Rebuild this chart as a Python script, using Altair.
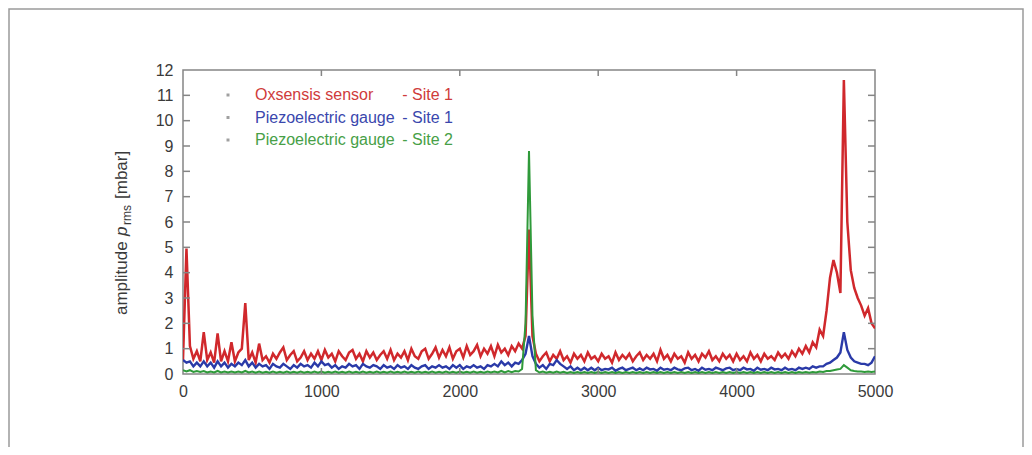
import altair as alt
import pandas as pd

# ---------------- data ----------------
FREQ_HZ = list(range(0, 5001, 25))  # frequency grid, 25 Hz spacing (201 points)

OXSENSIS_SITE1 = [
    0.55, 4.95, 1.1, 0.6, 0.9, 0.5, 1.65, 0.55, 0.85, 0.45, 1.6, 0.5, 0.9, 0.5, 1.25, 0.5, 0.85, 1.0, 2.8, 0.55,
    0.85, 0.45, 1.2, 0.55, 0.7, 0.45, 0.8, 0.6, 0.85, 1.05, 0.55, 0.75, 0.9, 0.5, 0.65, 0.9, 0.55, 0.8, 0.6, 0.9,
    0.55, 0.95, 0.65, 0.8, 0.5, 0.9, 0.7, 0.55, 0.85, 0.95, 0.6, 0.8, 0.5, 0.9, 0.65, 0.85, 0.55, 0.75, 0.9, 0.6,
    0.95, 0.55, 0.8, 0.65, 0.9, 0.55, 1.0, 0.7, 0.6, 0.9, 1.0, 0.6, 0.8, 1.05, 0.65, 0.95, 0.7, 1.05, 0.6, 0.9,
    1.0, 0.65, 1.1, 0.75, 0.9, 1.15, 0.7, 1.0, 0.8, 1.1, 0.7, 1.15, 0.85, 1.0, 0.75, 1.1, 0.9, 1.2, 1.0, 1.5,
    5.7, 1.5, 0.8, 0.5, 0.7, 0.85, 0.5, 0.75, 0.6, 0.9, 0.55, 0.7, 0.45, 0.8, 0.6, 0.75, 0.5, 0.85, 0.6, 0.7,
    0.5, 0.8, 0.6, 0.7, 0.45, 0.85, 0.55, 0.75, 0.6, 0.8, 0.5, 0.7, 0.85, 0.55, 0.75, 0.6, 0.8, 0.5, 0.95, 0.6,
    0.75, 0.5, 0.8, 0.6, 0.7, 0.45, 0.85, 0.6, 0.75, 0.5, 0.8, 0.65, 0.9, 0.55, 0.7, 0.5, 0.8, 0.6, 0.75, 0.5,
    0.8, 0.55, 0.7, 0.5, 0.85, 0.6, 0.75, 0.5, 0.8, 0.6, 0.7, 0.55, 0.85, 0.65, 0.8, 0.6, 0.9, 0.7, 1.0, 0.8,
    1.1, 0.85, 1.25, 1.05, 1.75, 1.5, 2.5, 3.8, 4.5, 4.0, 3.2, 11.6, 6.0, 4.1, 3.4, 3.0, 2.7, 2.3, 2.6, 2.0,
    1.8,
]

PIEZO_SITE1 = [
    0.55, 0.45, 0.5, 0.3, 0.45, 0.3, 0.5, 0.3, 0.45, 0.25, 0.5, 0.3, 0.45, 0.25, 0.4, 0.3, 0.45, 0.35, 0.55, 0.3,
    0.45, 0.25, 0.4, 0.3, 0.35, 0.2, 0.4, 0.3, 0.25, 0.4, 0.3, 0.2, 0.35, 0.25, 0.4, 0.3, 0.35, 0.25, 0.45, 0.3,
    0.5, 0.35, 0.4, 0.25, 0.35, 0.2, 0.3, 0.25, 0.4, 0.3, 0.35, 0.2, 0.4, 0.3, 0.25, 0.35, 0.3, 0.2, 0.35, 0.25,
    0.3, 0.2, 0.35, 0.25, 0.3, 0.2, 0.35, 0.25, 0.2, 0.3, 0.35, 0.2, 0.3, 0.25, 0.35, 0.25, 0.3, 0.2, 0.35, 0.25,
    0.35, 0.2, 0.3, 0.25, 0.35, 0.25, 0.3, 0.2, 0.35, 0.3, 0.4, 0.3, 0.5, 0.35, 0.45, 0.3, 0.45, 0.4, 0.55, 0.8,
    1.5, 0.7, 0.4, 0.25, 0.35, 0.2, 0.4, 0.35, 0.55, 0.4, 0.3, 0.2, 0.3, 0.15, 0.25, 0.15, 0.25, 0.15, 0.25, 0.15,
    0.25, 0.15, 0.2, 0.18, 0.25, 0.13, 0.2, 0.25, 0.15, 0.2, 0.25, 0.15, 0.22, 0.15, 0.25, 0.18, 0.2, 0.13, 0.25, 0.17,
    0.2, 0.15, 0.25, 0.18, 0.15, 0.22, 0.25, 0.15, 0.2, 0.13, 0.25, 0.17, 0.2, 0.15, 0.25, 0.2, 0.15, 0.22, 0.25, 0.15,
    0.2, 0.15, 0.25, 0.18, 0.2, 0.13, 0.25, 0.17, 0.2, 0.15, 0.25, 0.18, 0.2, 0.15, 0.25, 0.17, 0.2, 0.15, 0.25, 0.2,
    0.25, 0.2, 0.3, 0.25, 0.3, 0.3, 0.4, 0.45, 0.55, 0.65, 0.85, 1.65, 0.95, 0.65, 0.5, 0.45, 0.4, 0.4, 0.35, 0.45,
    0.7,
]

PIEZO_SITE2 = [
    0.15, 0.1, 0.15, 0.08, 0.12, 0.08, 0.12, 0.06, 0.1, 0.06, 0.12, 0.06, 0.1, 0.06, 0.1, 0.06, 0.1, 0.06, 0.12, 0.06,
    0.1, 0.05, 0.1, 0.05, 0.09, 0.05, 0.1, 0.05, 0.09, 0.05, 0.1, 0.05, 0.09, 0.05, 0.1, 0.05, 0.09, 0.05, 0.1, 0.05,
    0.1, 0.05, 0.09, 0.05, 0.1, 0.05, 0.09, 0.05, 0.1, 0.05, 0.09, 0.05, 0.1, 0.05, 0.09, 0.05, 0.1, 0.05, 0.09, 0.05,
    0.1, 0.05, 0.09, 0.05, 0.1, 0.05, 0.09, 0.05, 0.1, 0.05, 0.09, 0.05, 0.1, 0.05, 0.09, 0.05, 0.1, 0.05, 0.09, 0.05,
    0.1, 0.05, 0.09, 0.05, 0.1, 0.05, 0.09, 0.05, 0.1, 0.06, 0.1, 0.06, 0.12, 0.06, 0.12, 0.07, 0.12, 0.1, 0.2, 2.0,
    8.8, 2.3, 0.15, 0.06, 0.1, 0.05, 0.09, 0.05, 0.1, 0.05, 0.09, 0.04, 0.08, 0.04, 0.08, 0.04, 0.08, 0.04, 0.08, 0.04,
    0.08, 0.04, 0.08, 0.04, 0.08, 0.04, 0.08, 0.04, 0.08, 0.04, 0.08, 0.04, 0.08, 0.04, 0.08, 0.04, 0.08, 0.04, 0.08, 0.04,
    0.08, 0.04, 0.08, 0.04, 0.08, 0.04, 0.08, 0.04, 0.08, 0.04, 0.08, 0.04, 0.08, 0.04, 0.08, 0.04, 0.08, 0.04, 0.08, 0.04,
    0.08, 0.04, 0.08, 0.04, 0.08, 0.04, 0.08, 0.04, 0.08, 0.04, 0.08, 0.04, 0.08, 0.04, 0.08, 0.04, 0.08, 0.04, 0.08, 0.05,
    0.08, 0.05, 0.08, 0.06, 0.1, 0.08, 0.12, 0.12, 0.15, 0.18, 0.2, 0.35, 0.25, 0.15, 0.12, 0.1, 0.1, 0.08, 0.1, 0.08,
    0.1,
]

SERIES_NAMES = ["Oxsensis sensor", "Piezoelectric gauge", "Piezoelectric gauge"]
SERIES_SITES = ["- Site 1", "- Site 1", "- Site 2"]
SERIES_COLORS = ["#d0282c", "#2a3aa8", "#2f9a3a"]
LEGEND_TEXT_COLORS = ["#cf3b3b", "#3a47ad", "#47a047"]

X_LABELS = [0, 1000, 2000, 3000, 4000, 5000]
Y_LABELS = list(range(0, 13))
X_TICKS = [1000, 2000, 3000, 4000]
Y_TICKS = list(range(1, 12))

# ---------------- layout ----------------
W, H = 692, 304
PAD = {"left": 175, "top": 62, "right": 149, "bottom": 73}
FONT = "Liberation Sans"
FRAME = "#858585"

xscale = alt.Scale(domain=[0, 5000], nice=False, zero=False)
yscale = alt.Scale(domain=[0, 12], nice=False, zero=False)
xaxis = alt.Axis(title="", values=X_LABELS, format="d", labelPadding=9, labelFontSize=16,
                 labelFont=FONT, labelColor="#3a3a3a", grid=False, domain=False, ticks=False,
                 labelFlush=False)
yaxis = alt.Axis(title="", values=Y_LABELS, format="d", labelPadding=10, labelFontSize=16,
                 labelFont=FONT, labelColor="#3a3a3a", grid=False, domain=False, ticks=False)

layers = []

# outer border of the figure
layers.append(
    alt.Chart(pd.DataFrame({"a": [0]})).mark_rect(fillOpacity=0, stroke="#9a9a9a", strokeWidth=1.5)
    .encode(x=alt.value(-174), x2=alt.value(840), y=alt.value(-61), y2=alt.value(450))
)

series_values = [OXSENSIS_SITE1, PIEZO_SITE1, PIEZO_SITE2]
widths = [2.5, 2.4, 2.0]
for vals, col, sw in zip(series_values, SERIES_COLORS, widths):
    df = pd.DataFrame({"f": FREQ_HZ, "v": vals})
    layers.append(
        alt.Chart(df).mark_line(color=col, strokeWidth=sw, clip=True)
        .encode(x=alt.X("f:Q", scale=xscale, axis=xaxis),
                y=alt.Y("v:Q", scale=yscale, axis=yaxis))
    )

# inward ticks (gnuplot style)
xt = pd.DataFrame({"f": X_TICKS})
yt = pd.DataFrame({"v": Y_TICKS})
layers.append(alt.Chart(xt).mark_rule(color=FRAME, strokeWidth=1.5)
              .encode(x=alt.X("f:Q", scale=xscale, axis=xaxis), y=alt.value(H - 6), y2=alt.value(H)))
layers.append(alt.Chart(xt).mark_rule(color=FRAME, strokeWidth=1.5)
              .encode(x=alt.X("f:Q", scale=xscale, axis=xaxis), y=alt.value(0), y2=alt.value(6)))
layers.append(alt.Chart(yt).mark_rule(color=FRAME, strokeWidth=1.5)
              .encode(y=alt.Y("v:Q", scale=yscale, axis=yaxis), x=alt.value(0), x2=alt.value(7)))
layers.append(alt.Chart(yt).mark_rule(color=FRAME, strokeWidth=1.5)
              .encode(y=alt.Y("v:Q", scale=yscale, axis=yaxis), x=alt.value(W - 7), x2=alt.value(W)))

# legend (inside top-left)
for i, (name, site, tcol) in enumerate(zip(SERIES_NAMES, SERIES_SITES, LEGEND_TEXT_COLORS)):
    yy = 25 + 22.5 * i
    d = pd.DataFrame({"name": [name], "site": [site]})
    layers.append(alt.Chart(d).mark_square(size=9, color="#a0a0a0", opacity=1)
                  .encode(x=alt.value(45), y=alt.value(yy)))
    layers.append(alt.Chart(d).mark_text(align="left", baseline="middle", font=FONT, fontSize=16, color=tcol)
                  .encode(text="name:N", x=alt.value(72), y=alt.value(yy)))
    layers.append(alt.Chart(d).mark_text(align="right", baseline="middle", font=FONT, fontSize=16, color=tcol)
                  .encode(text="site:N", x=alt.value(270), y=alt.value(yy)))

# y-axis title: amplitude p_rms [mbar]  (rotated pieces)
TITLE_PARTS = ["amplitude", "p", "rms", "[mbar]"]
title_style = [
    dict(fontSize=17, fontStyle="normal", x=-61, y=245),
    dict(fontSize=17, fontStyle="italic", x=-61, y=166),
    dict(fontSize=12, fontStyle="normal", x=-56, y=155),
    dict(fontSize=17, fontStyle="normal", x=-61, y=129),
]
for txt, st in zip(TITLE_PARTS, title_style):
    layers.append(
        alt.Chart(pd.DataFrame({"t": [txt]}))
        .mark_text(align="left", baseline="middle", angle=270, font=FONT,
                   fontSize=st["fontSize"], fontStyle=st["fontStyle"], color="#3a3a3a")
        .encode(text="t:N", x=alt.value(st["x"]), y=alt.value(st["y"]))
    )

chart = (
    alt.layer(*layers)
    .properties(width=W, height=H, autosize=alt.AutoSizeParams(type="none"), padding=PAD,
                background="white")
    .configure_view(stroke=FRAME, strokeWidth=1.5)
)

chart.save("out.html", embed_options={"renderer": "svg", "actions": False})
